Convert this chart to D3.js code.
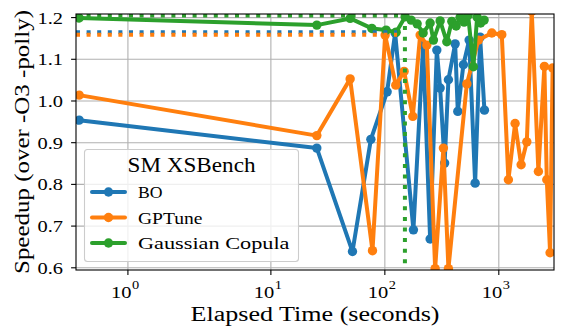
<!DOCTYPE html>
<html><head><meta charset="utf-8">
<script src="https://cdn.jsdelivr.net/npm/d3@7"></script>
<style>body{margin:0;background:#fff}svg{display:block}</style>
</head><body>
<script>
// ---- data ----
const boTime  = [0.23, 25.3, 52.0, 75.4, 104.7, 123.1, 178.1, 216.8, 249.6, 285.8, 305.6, 334.7, 361.3, 413.9, 436.7, 489.0, 549.3, 619.9, 685.5, 747.8];
const boSpeed = [0.954, 0.887, 0.639, 0.908, 1.022, 1.163, 0.691, 1.134, 0.669, 1.122, 1.031, 0.851, 1.051, 1.137, 0.975, 1.087, 1.146, 0.803, 1.153, 0.978];
const gpTime  = [0.23, 25.3, 49.6, 77.9, 100.6, 124.8, 147.6, 176.0, 204.0, 233.5, 276.2, 326.5, 361.3, 524.0, 662.3, 868.4, 1062, 1214, 1390, 1570, 1761, 1946, 2225, 2512, 2637, 2818, 2965];
const gpSpeed = [1.014, 0.917, 1.053, 0.641, 1.158, 1.038, 1.071, 0.963, 1.158, 1.134, 0.598, 0.887, 0.598, 1.041, 1.146, 1.163, 1.159, 0.811, 0.946, 0.847, 0.902, 1.215, 0.831, 1.083, 0.811, 0.636, 1.079];
const gcTime  = [0.23, 25.3, 49.6, 76.9, 102.6, 125.7, 150.7, 170.1, 192.0, 216.8, 249.6, 266.9, 305.6, 349.8, 386.9, 422.1, 457.7, 496.5, 538.0, 598.4, 645.2, 692.5, 743.3];
const gcSpeed = [1.199, 1.182, 1.198, 1.174, 1.170, 1.165, 1.202, 1.194, 1.185, 1.163, 1.187, 1.146, 1.192, 1.142, 1.191, 1.180, 1.201, 1.189, 1.206, 1.082, 1.201, 1.187, 1.194];
const seriesNames = ["BO", "GPTune", "Gaussian Copula"];
const bestSpeed = [1.165, 1.159, 1.205];
const bestTime  = [128, 128, 150];
const xTicks = [1, 10, 100, 1000];
const xTickExp = ["0", "1", "2", "3"];
const yTicks = [0.6, 0.7, 0.8, 0.9, 1.0, 1.1, 1.2];
const legendTitle = "SM XSBench";
const xLabel = "Elapsed Time (seconds)";
const yLabel = "Speedup (over -O3 -polly)";

// ---- layout ----
const W = 565, H = 335;
const L = 76, R = 554, T = 14, B = 270;
const colors = ["#1f77b4", "#ff7f0e", "#2ca02c"];
const font = "Liberation Serif, Times New Roman, serif";
const legendTextLen = [24.5, 64.5, 151.5];

// matplotlib-style symlog transform (linthresh=2, linscale=1, base 10)
const LT = 2, LS = 1 / (1 - 1 / 10);
const symT = v => Math.abs(v) <= LT ? v * LS : Math.sign(v) * LT * (LS + Math.log10(Math.abs(v) / LT));
const xLin = d3.scaleLinear().domain([symT(0.18), symT(3050)]).range([L, R]);
const x = v => xLin(symT(v));
const y = d3.scaleLinear().domain([0.5947, 1.2086]).range([B, T]);

const svg = d3.select("body").append("svg").attr("width", W).attr("height", H)
  .style("font-family", font);
svg.append("rect").attr("width", W).attr("height", H).attr("fill", "#fff");

svg.append("defs").append("clipPath").attr("id", "clip")
  .append("rect").attr("x", L).attr("y", T).attr("width", R - L).attr("height", B - T);

// grid
const grid = svg.append("g");
grid.selectAll(".gx").data(xTicks).join("line")
  .attr("x1", d => x(d)).attr("x2", d => x(d)).attr("y1", T).attr("y2", B)
  .attr("stroke", "#b0b0b0").attr("stroke-width", 1.1);
grid.selectAll(".gy").data(yTicks).join("line")
  .attr("x1", L).attr("x2", R).attr("y1", d => y(d)).attr("y2", d => y(d))
  .attr("stroke", "#b0b0b0").attr("stroke-width", 1.1);

// data
const plot = svg.append("g").attr("clip-path", "url(#clip)");
const series = [
  boTime.map((t, i) => [t, boSpeed[i]]),
  gpTime.map((t, i) => [t, gpSpeed[i]]),
  gcTime.map((t, i) => [t, gcSpeed[i]])
];
const line = d3.line().x(d => x(d[0])).y(d => y(d[1]));
series.forEach((s, k) => {
  plot.append("path").datum(s).attr("d", line).attr("fill", "none")
    .attr("stroke", colors[k]).attr("stroke-width", 4).attr("stroke-linejoin", "round").attr("stroke-linecap", "round");
  plot.selectAll(".m" + k).data(s).join("circle")
    .attr("cx", d => x(d[0])).attr("cy", d => y(d[1])).attr("r", 4.7).attr("fill", colors[k]);
});
// best lines (dotted)
series.forEach((s, k) => {
  plot.append("line").attr("x1", L).attr("x2", x(bestTime[k]))
    .attr("y1", y(bestSpeed[k])).attr("y2", y(bestSpeed[k]))
    .attr("stroke", colors[k]).attr("stroke-width", 4).attr("stroke-dasharray", "4,6.6");
});
plot.append("line").attr("x1", x(bestTime[2])).attr("x2", x(bestTime[2]))
  .attr("y1", y(bestSpeed[2])).attr("y2", B + 10)
  .attr("stroke", colors[2]).attr("stroke-width", 4).attr("stroke-dasharray", "4,6.6");

// spines
svg.append("rect").attr("x", L).attr("y", T).attr("width", R - L).attr("height", B - T)
  .attr("fill", "none").attr("stroke", "#000").attr("stroke-width", 1.1);

// ticks
const ax = svg.append("g").attr("font-size", 17).attr("fill", "#000");
xTicks.forEach((t, i) => {
  ax.append("line").attr("x1", x(t)).attr("x2", x(t)).attr("y1", B).attr("y2", B + 4.9).attr("stroke", "#000").attr("stroke-width", 1.1);
  ax.append("text").attr("x", x(t) + 3.5).attr("y", 297.5).attr("text-anchor", "end")
    .attr("textLength", 20.5).attr("lengthAdjust", "spacingAndGlyphs").text("10");
  ax.append("text").attr("x", x(t) + 4).attr("y", 289).attr("font-size", 12)
    .attr("textLength", 7.2).attr("lengthAdjust", "spacingAndGlyphs").text(xTickExp[i]);
});
yTicks.forEach(t => {
  ax.append("line").attr("x1", L - 4.9).attr("x2", L).attr("y1", y(t)).attr("y2", y(t)).attr("stroke", "#000").attr("stroke-width", 1.1);
  ax.append("text").attr("x", L - 38.5).attr("y", y(t) + 6)
    .attr("textLength", 25.5).attr("lengthAdjust", "spacingAndGlyphs").text(t.toFixed(1));
});

// axis labels
svg.append("text").attr("x", (L + R) / 2 - 124.5).attr("y", 321)
  .attr("font-size", 20.5).attr("textLength", 249).attr("lengthAdjust", "spacingAndGlyphs").text(xLabel);
svg.append("text").attr("transform", `translate(28.5,${(T + B) / 2 + 132}) rotate(-90)`)
  .attr("font-size", 20.5).attr("textLength", 264).attr("lengthAdjust", "spacingAndGlyphs").text(yLabel);

// legend
const lg = svg.append("g");
lg.append("rect").attr("x", 84.5).attr("y", 149.5).attr("width", 214).attr("height", 112).attr("rx", 3)
  .attr("fill", "#fff").attr("fill-opacity", 0.8).attr("stroke", "#cccccc").attr("stroke-width", 1.1);
lg.append("text").attr("x", 191.5 - 64).attr("y", 172)
  .attr("font-size", 20.5).attr("textLength", 128).attr("lengthAdjust", "spacingAndGlyphs").text(legendTitle);
seriesNames.forEach((n, k) => {
  const cy = 192 + k * 25.5;
  lg.append("line").attr("x1", 92).attr("x2", 125).attr("y1", cy).attr("y2", cy)
    .attr("stroke", colors[k]).attr("stroke-width", 4).attr("stroke-linecap", "round");
  lg.append("circle").attr("cx", 108.5).attr("cy", cy).attr("r", 4.7).attr("fill", colors[k]);
  lg.append("text").attr("x", 138).attr("y", cy + 6)
    .attr("font-size", 17.5).attr("textLength", legendTextLen[k]).attr("lengthAdjust", "spacingAndGlyphs").text(n);
});
</script>
</body></html>
